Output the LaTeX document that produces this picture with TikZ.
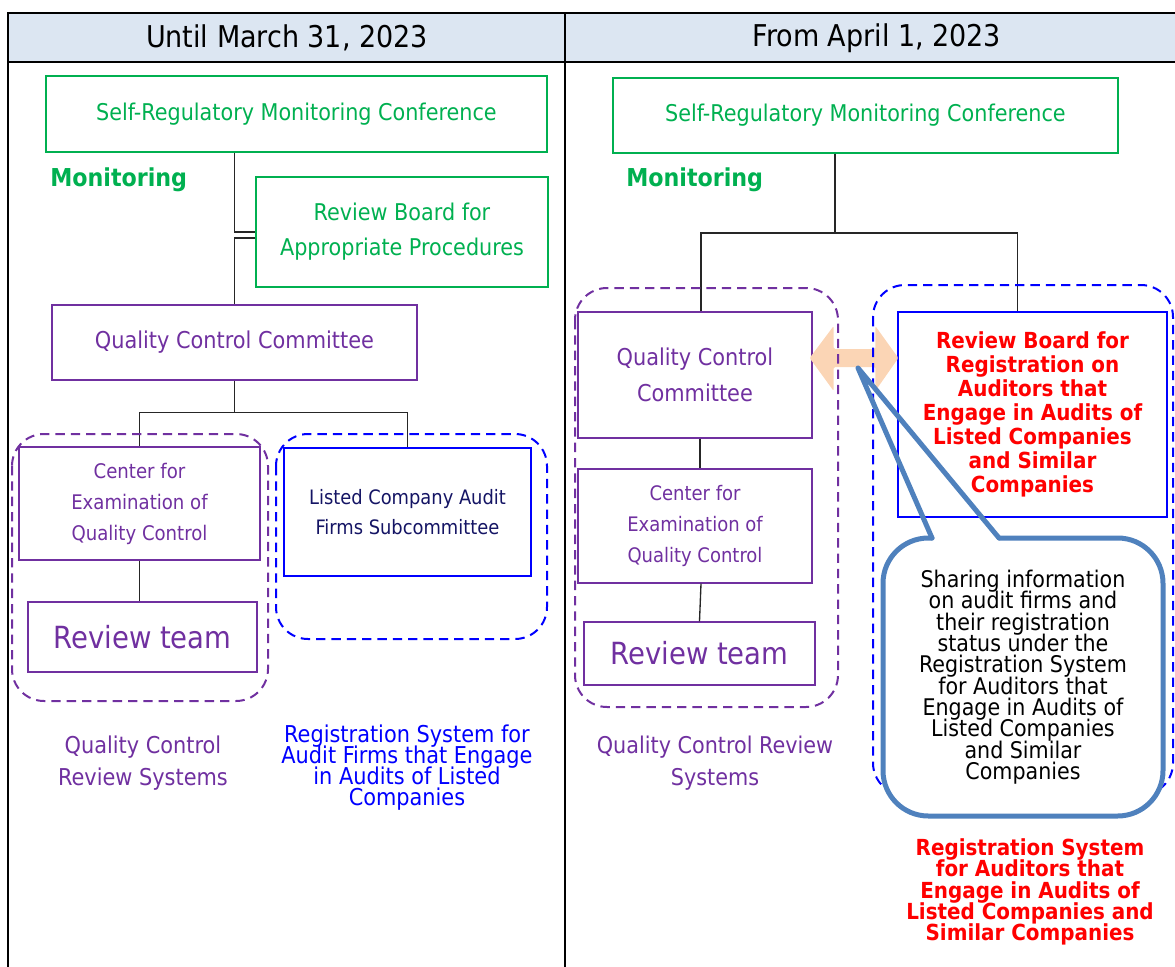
\documentclass[tikz,border=0pt]{standalone}
\usepackage{fontspec}
\IfFontExistsTF{DejaVu Sans Condensed}{\setmainfont{DejaVu Sans Condensed}}{\setmainfont{DejaVu Sans}}
\usetikzlibrary{calc}

\definecolor{qcgreen}{RGB}{0,176,80}
\definecolor{qcviolet}{RGB}{112,48,160}
\definecolor{regblue}{RGB}{0,0,255}
\definecolor{subnavy}{RGB}{20,20,100}
\definecolor{regred}{RGB}{255,0,0}
\definecolor{callblue}{RGB}{79,129,189}
\definecolor{peche}{RGB}{251,213,181}
\definecolor{entete}{RGB}{220,230,242}

\begin{document}
\begin{tikzpicture}[x=0.75pt,y=-0.75pt,
  boite/.style={draw, line width=1pt, inner sep=0pt, align=center},
  vertbox/.style={boite, draw=qcgreen, text=qcgreen},
  violbox/.style={boite, draw=qcviolet, text=qcviolet},
  bleubox/.style={boite, draw=regblue},
  lien/.style={draw=black!85, line width=1pt},
  trait/.style={line width=1.5pt},
  serre/.style={execute at begin node={\lineskiplimit=-100pt}},
  pointille/.style={dash pattern=on 7pt off 4.5pt, line width=1.5pt, rounded corners=24pt},
  callline/.style={draw=callblue, line width=3.75pt, line join=round, line cap=round}]
  % Cadre du tableau
  \useasboundingbox (0,0) rectangle (1175,967);
  \fill[entete] (8,13) rectangle (1185,62);
  \draw[trait] (1185,13) -- (8,13) -- (8,975);
  \draw[trait] (8,62) -- (1185,62);
  \draw[trait] (565,13) -- (565,975);
  \node[font=\fontsize{22.5}{26}\selectfont] (titreA) at (287,38) {Until March 31, 2023};
  \node[font=\fontsize{22.5}{26}\selectfont] (titreB) at (877,38) {From April 1, 2023};

  % Avant : organisation jusqu'au 31 mars
  \node[vertbox, minimum width=375.75pt, minimum height=57pt, font=\fontsize{17.3}{20}\selectfont] (confA) at (296.5,114) {Self-Regulatory Monitoring Conference};
  \node[text=qcgreen, anchor=west, inner sep=0pt, font=\bfseries\fontsize{18.5}{22}\selectfont] (monA) at (50,180) {Monitoring};
  \node[vertbox, minimum width=219pt, minimum height=82.5pt, font=\fontsize{17.3}{26.25}\selectfont] (boardA) at (402,232) {Review Board for\\Appropriate Procedures};
  \node[violbox, minimum width=273.75pt, minimum height=56.25pt, font=\fontsize{17.4}{20}\selectfont] (qccA) at (234.5,342.5) {Quality Control Committee};
  \node[violbox, minimum width=180.75pt, minimum height=84.75pt, font=\fontsize{15.1}{23.25}\selectfont] (centerA) at (139.5,503.5) {Center for\\Examination of\\Quality Control};
  \node[violbox, minimum width=171.75pt, minimum height=52.5pt, font=\fontsize{22.9}{26}\selectfont] (teamA) at (142.5,637) {Review team};
  \node[bleubox, text=subnavy, minimum width=185.25pt, minimum height=96pt, font=\fontsize{14.9}{22.5}\selectfont] (subA) at (407.5,512) {Listed Company Audit\\Firms Subcommittee};

  \draw[lien] (confA.south -| qccA.north) |- (boardA.west);
  \draw[lien] ([yshift=-4.5pt]boardA.west) -| (qccA.north);
  \draw[lien] (qccA.south) -- ++(0,32) coordinate (brA) -| (centerA.north);
  \draw[lien] (brA) -| (subA.north);
  \draw[lien] (centerA.south) -- (centerA.south |- teamA.north);

  \draw[pointille, draw=qcviolet] (12,434) rectangle (268,701);
  \draw[pointille, draw=regblue] (276,434) rectangle (547,639);

  \node[text=qcviolet, align=center, font=\fontsize{17.4}{23.5}\selectfont] (sysA) at (143,763) {Quality Control\\Review Systems};
  \node[serre, text=regblue, align=center, font=\fontsize{17.4}{15.75}\selectfont] (regA) at (407,768) {Registration System for\\Audit Firms that Engage\\in Audits of Listed\\Companies};

  % Apres : organisation a partir du 1er avril
  \node[vertbox, minimum width=378.75pt, minimum height=56.25pt, font=\fontsize{17.3}{20}\selectfont] (confB) at (865.5,115.5) {Self-Regulatory Monitoring Conference};
  \node[text=qcgreen, anchor=west, inner sep=0pt, font=\bfseries\fontsize{18.5}{22}\selectfont] (monB) at (626,180) {Monitoring};
  \node[violbox, minimum width=175.5pt, minimum height=94.5pt, font=\fontsize{17.4}{27}\selectfont] (qccB) at (695,375) {Quality Control\\Committee};
  \node[violbox, minimum width=175.5pt, minimum height=85.5pt, font=\fontsize{15}{23.25}\selectfont] (centerB) at (695,526) {Center for\\Examination of\\Quality Control};
  \node[violbox, minimum width=173.25pt, minimum height=47.25pt, font=\fontsize{22.9}{26}\selectfont] (teamB) at (699.5,653.5) {Review team};
  \node[bleubox, serre, text=regred, minimum width=201.75pt, minimum height=153.75pt, font=\bfseries\fontsize{16.6}{18}\selectfont] (boardB) at (1032.5,414.5) {Review Board for\\Registration on\\Auditors that\\Engage in Audits of\\Listed Companies\\and Similar\\Companies};

  \coordinate (brB) at (835,233);
  \draw[lien] (brB |- confB.south) -- (brB);
  \draw[lien] ([xshift=4.5pt]qccB.north) |- (brB) -| ([xshift=-11.5pt]boardB.north);
  \draw[lien] ([xshift=3.75pt]qccB.south) -- ([xshift=3.75pt]centerB.north);
  \draw[lien] ([xshift=4.5pt]centerB.south) -- (teamB.north);

  % Double fleche entre les deux organes
  \coordinate (flecheG) at ([yshift=12.75pt]qccB.east);
  \coordinate (flecheD) at (flecheG -| boardB.west);
  \fill[peche, rounded corners=1pt] ($(flecheG)+(-3,0)$) -- ++(24,-32) -- ++(0,23) -- ($(flecheD)+(-22,-9)$) -- ++(0,-23) -- ($(flecheD)+(1,0)$) -- ++(-23,33) -- ++(0,-24) -- ($(flecheG)+(21,9)$) -- ++(0,24) -- cycle;

  \draw[pointille, draw=qcviolet] (575,288) rectangle (838,707);
  \draw[pointille, draw=regblue] (873,285) rectangle (1173,795);

  % Bulle de partage d'information
  \coordinate (pointe) at (858,368);
  \fill[white, rounded corners=34pt] (883,538) rectangle (1163,816);
  \draw[callline, rounded corners=34pt] (932,538) -- (883,538) -- (883,816) -- (1163,816) -- (1163,538) -- (999,538);
  \draw[callline] (932,538) -- (pointe) -- (999,538);
  \node[serre, align=center, font=\fontsize{17.2}{16}\selectfont] (partage) at (1023,677) {Sharing information\\on audit firms and\\their registration\\status under the\\Registration System\\for Auditors that\\Engage in Audits of\\Listed Companies\\and Similar\\Companies};

  \node[text=qcviolet, align=center, font=\fontsize{17.3}{24}\selectfont] (sysB) at (715,763) {Quality Control Review\\Systems};
  \node[serre, text=regred, align=center, font=\bfseries\fontsize{16.6}{16}\selectfont] (regB) at (1030,892) {Registration System\\for Auditors that\\Engage in Audits of\\Listed Companies and\\Similar Companies};
\end{tikzpicture}
\end{document}
